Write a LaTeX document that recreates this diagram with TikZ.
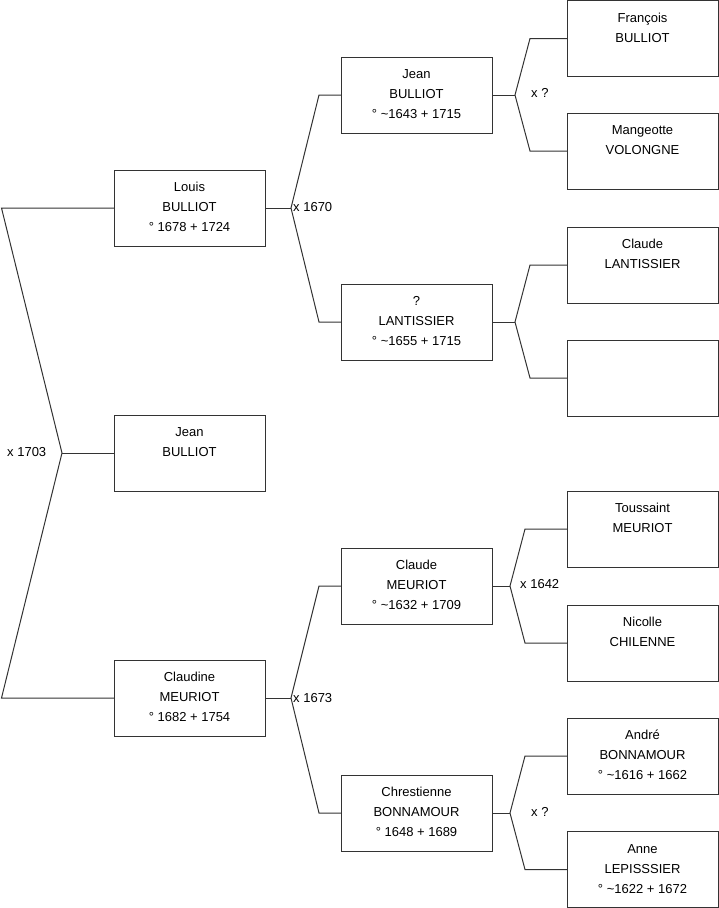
\documentclass[tikz,border=0pt]{standalone}
\usepackage{fontspec}
\setmainfont{Liberation Sans}
\tikzset{
  pbox/.style={draw=black!80, line width=1pt, minimum width=151pt, minimum height=76pt, inner sep=0pt, outer sep=0pt},
  ptext/.style={anchor=north, inner sep=0pt, align=center, font=\fontsize{13}{20}\selectfont},
  conn/.style={draw=black!80, line width=1pt},
  mlabel/.style={anchor=west, inner sep=0pt, font=\fontsize{13}{20}\selectfont}
}
\newcommand\personbox[4]{%
  \node[pbox] (#1) at (#2,#3) {};
  \node[ptext] (#1t) at ([yshift=-7.7pt]#1.north) {\strut #4};
}
\begin{document}
\begin{tikzpicture}[x=1pt,y=-1pt]
\useasboundingbox (0,0) rectangle (719,908);
% generation 0
\personbox{jean0}{189.5}{453}{Jean\\BULLIOT}
% generation 1
\personbox{louis}{189.5}{208}{Louis\\BULLIOT\\° 1678 + 1724}
\personbox{claudine}{189.5}{698}{Claudine\\MEURIOT\\° 1682 + 1754}
% generation 2
\personbox{jeanB}{416.5}{95}{Jean\\BULLIOT\\° \textasciitilde1643 + 1715}
\personbox{lant}{416.5}{322}{?\\LANTISSIER\\° \textasciitilde1655 + 1715}
\personbox{claudeM}{416.5}{586}{Claude\\MEURIOT\\° \textasciitilde1632 + 1709}
\personbox{chres}{416.5}{813}{Chrestienne\\BONNAMOUR\\° 1648 + 1689}
% generation 3
\personbox{francois}{642.5}{38.5}{François\\BULLIOT}
\personbox{mangeotte}{642.5}{151}{Mangeotte\\VOLONGNE}
\personbox{claudeL}{642.5}{265}{Claude\\LANTISSIER}
\node[pbox] (empty) at (642.5,378) {};
\personbox{toussaint}{642.5}{529}{Toussaint\\MEURIOT}
\personbox{nicolle}{642.5}{643}{Nicolle\\CHILENNE}
\personbox{andre}{642.5}{756}{André\\BONNAMOUR\\° \textasciitilde1616 + 1662}
\personbox{anne}{642.5}{869.5}{Anne\\LEPISSSIER\\° \textasciitilde1622 + 1672}

% connector corners
\coordinate (a0) at (1.5,208);
\coordinate (v0) at (62,453);
\coordinate (b0) at (1.5,698);
\coordinate (v1) at (291,208);
\coordinate (c1a) at (319,95);
\coordinate (c1b) at (319,322);
\coordinate (v2) at (291,698);
\coordinate (c2a) at (319,586);
\coordinate (c2b) at (319,813);
\coordinate (v3) at (515,95);
\coordinate (c3a) at (530,38.5);
\coordinate (c3b) at (530,151);
\coordinate (v4) at (515,322);
\coordinate (c4a) at (530,265);
\coordinate (c4b) at (530,378);
\coordinate (v5) at (510,586);
\coordinate (c5a) at (525,529);
\coordinate (c5b) at (525,643);
\coordinate (v6) at (510,813);
\coordinate (c6a) at (525,756);
\coordinate (c6b) at (525,869.5);

% connectors
\draw[conn] (louis.west) -- (a0) -- (v0) -- (b0) -- (claudine.west);
\draw[conn] (v0) -- (jean0.west);
\draw[conn] (louis.east) -- (v1);
\draw[conn] (jeanB.west) -- (c1a) -- (v1) -- (c1b) -- (lant.west);
\draw[conn] (claudine.east) -- (v2);
\draw[conn] (claudeM.west) -- (c2a) -- (v2) -- (c2b) -- (chres.west);
\draw[conn] (jeanB.east) -- (v3);
\draw[conn] (francois.west) -- (c3a) -- (v3) -- (c3b) -- (mangeotte.west);
\draw[conn] (lant.east) -- (v4);
\draw[conn] (claudeL.west) -- (c4a) -- (v4) -- (c4b) -- (empty.west);
\draw[conn] (claudeM.east) -- (v5);
\draw[conn] (toussaint.west) -- (c5a) -- (v5) -- (c5b) -- (nicolle.west);
\draw[conn] (chres.east) -- (v6);
\draw[conn] (andre.west) -- (c6a) -- (v6) -- (c6b) -- (anne.west);

% marriage labels
\node[mlabel] (m0) at (7,452) {x 1703};
\node[mlabel] (m1) at (293,207) {x 1670};
\node[mlabel] (m2) at (293,698) {x 1673};
\node[mlabel] (m3) at (531,92.5) {x ?};
\node[mlabel] (m4) at (520,584) {x 1642};
\node[mlabel] (m5) at (531,811.5) {x ?};
\end{tikzpicture}
\end{document}
